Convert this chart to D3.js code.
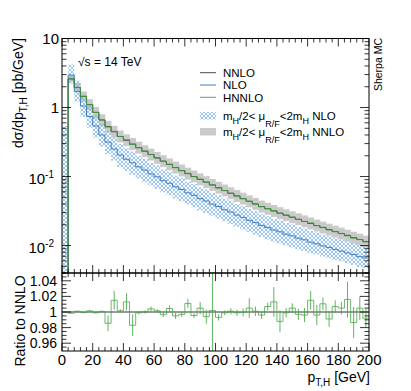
<!DOCTYPE html>
<html>
<head>
<meta charset="utf-8">
<script src="https://cdn.jsdelivr.net/npm/d3@7"></script>
<style>
body { margin: 0; background: #fff; }
text { font-family: "Liberation Sans", Arial, sans-serif; fill: #000; }
</style>
</head>
<body>
<div id="chart"></div>
<script>
// bin edges in GeV (4 GeV bins, 0..200)
var edges = d3.range(0, 204, 4);

// NNLO central values [pb/GeV], one per bin
var nnlo = [0.002, 2.6, 1.95, 1.45, 1.10, 0.85, 0.66, 0.53, 0.445, 0.38,
            0.335, 0.296, 0.262, 0.233, 0.208, 0.186, 0.167, 0.150, 0.135, 0.122,
            0.110, 0.100, 0.091, 0.083, 0.0755, 0.0688, 0.0627, 0.0572, 0.0523, 0.0478,
            0.0437, 0.0400, 0.0367, 0.0341, 0.0317, 0.0295, 0.0275, 0.0257, 0.0240, 0.0224,
            0.0209, 0.0195, 0.0182, 0.0170, 0.0159, 0.0149, 0.0139, 0.0130, 0.0122, 0.0114];

// NLO central values
var nlo = [0.002, 2.95, 1.7, 1.05, 0.74, 0.54, 0.40, 0.315, 0.25, 0.205,
           0.178, 0.158, 0.138, 0.124, 0.109, 0.099, 0.087, 0.080, 0.071, 0.065,
           0.058, 0.0535, 0.0478, 0.0442, 0.0398, 0.0368, 0.0330, 0.0306, 0.0276, 0.0256,
           0.0232, 0.0215, 0.0196, 0.0183, 0.0168, 0.0158, 0.0146, 0.0138, 0.0128, 0.0121,
           0.0112, 0.0106, 0.0099, 0.0094, 0.0088, 0.0083, 0.0078, 0.0074, 0.0069, 0.0066];

// scale variation envelopes, relative to central value
var nloUp = [270, 1.42, 1.44, 1.45, 1.45, 1.45, 1.46, 1.45, 1.46, 1.45,
             1.45, 1.46, 1.45, 1.46, 1.45, 1.46, 1.45, 1.46, 1.45, 1.46,
             1.45, 1.46, 1.45, 1.46, 1.45, 1.46, 1.45, 1.46, 1.45, 1.46,
             1.45, 1.46, 1.45, 1.46, 1.45, 1.46, 1.45, 1.46, 1.45, 1.46,
             1.45, 1.46, 1.45, 1.46, 1.45, 1.46, 1.45, 1.46, 1.45, 1.46];
var nloDn = [0.5, 0.75, 0.72, 0.70, 0.69, 0.68, 0.68, 0.67, 0.68, 0.67,
             0.68, 0.67, 0.68, 0.67, 0.68, 0.67, 0.68, 0.67, 0.68, 0.67,
             0.68, 0.67, 0.68, 0.67, 0.68, 0.67, 0.68, 0.67, 0.68, 0.67,
             0.68, 0.67, 0.68, 0.67, 0.68, 0.68, 0.69, 0.68, 0.69, 0.69,
             0.69, 0.70, 0.70, 0.70, 0.70, 0.71, 0.71, 0.71, 0.71, 0.71];
var nnloUp = [1.2, 1.12, 1.16, 1.18, 1.2, 1.2, 1.21, 1.21, 1.22, 1.22,
              1.22, 1.22, 1.22, 1.22, 1.22, 1.22, 1.22, 1.22, 1.22, 1.22,
              1.22, 1.22, 1.22, 1.22, 1.22, 1.22, 1.22, 1.22, 1.22, 1.22,
              1.22, 1.22, 1.22, 1.22, 1.22, 1.22, 1.22, 1.22, 1.22, 1.22,
              1.22, 1.22, 1.22, 1.22, 1.22, 1.22, 1.22, 1.22, 1.22, 1.22];
var nnloDn = [0.8, 0.9, 0.86, 0.84, 0.83, 0.82, 0.82, 0.82, 0.82, 0.82,
              0.82, 0.82, 0.82, 0.82, 0.82, 0.82, 0.82, 0.82, 0.82, 0.82,
              0.82, 0.82, 0.82, 0.82, 0.82, 0.82, 0.82, 0.82, 0.82, 0.82,
              0.82, 0.82, 0.82, 0.82, 0.82, 0.82, 0.82, 0.82, 0.82, 0.82,
              0.82, 0.82, 0.82, 0.82, 0.82, 0.82, 0.82, 0.82, 0.82, 0.82];

// HNNLO / NNLO ratio and its stat. error
var ratio = [1.000, 0.9985, 1.001, 0.9992, 1.0015, 0.999, 1.0008, 0.9855, 1.015, 1.0015,
             1.013, 0.983, 0.999, 1.000, 1.004, 1.0015, 0.9965, 1.0045, 0.995, 0.997,
             1.011, 0.9955, 1.005, 0.994, 1.002, 0.993, 0.999, 1.001, 0.999, 0.9995,
             1.005, 1.001, 0.996, 1.007, 1.013, 0.988, 0.999, 1.005, 0.997, 0.996,
             1.015, 0.996, 1.0105, 0.991, 1.007, 1.005, 1.016, 0.9865, 1.005, 0.992];
var ratioErr = [0.001, 0.0005, 0.0007, 0.0008, 0.001, 0.001, 0.0012, 0.010, 0.012, 0.002,
                0.011, 0.014, 0.002, 0.002, 0.003, 0.002, 0.003, 0.004, 0.004, 0.003,
                0.006, 0.003, 0.008, 0.009, 0.060, 0.004, 0.003, 0.004, 0.004, 0.005,
                0.0125, 0.006, 0.005, 0.005, 0.019, 0.014, 0.006, 0.006, 0.007, 0.009,
                0.012, 0.013, 0.008, 0.010, 0.008, 0.008, 0.023, 0.020, 0.015, 0.012];

var xTicks = [0, 20, 40, 60, 80, 100, 120, 140, 160, 180, 200];
var yMajor = [0.01, 0.1, 1, 10];
var rTicks = [0.96, 0.98, 1, 1.02, 1.04];
var rLabels = ["0.96", "0.98", "1", "1.02", "1.04"];

// layout
var W = 411, H = 391;
var xL = 62, xR = 369, yTop = 38.5, yMid = 273, yBot = 351;

var svg = d3.select("#chart").append("svg")
    .attr("width", W)
    .attr("height", H);

var x = d3.scaleLinear().domain([0, 200]).range([xL, xR]);
var y = d3.scaleLog().domain([0.004, 10]).range([yMid, yTop]);
var yr = d3.scaleLinear().domain([0.95, 1.05]).range([yBot, yMid]);

var defs = svg.append("defs");
defs.append("clipPath").attr("id", "clipMain")
  .append("rect").attr("x", xL).attr("y", yTop).attr("width", xR - xL).attr("height", yMid - yTop);
defs.append("clipPath").attr("id", "clipRatio")
  .append("rect").attr("x", xL).attr("y", yMid).attr("width", xR - xL).attr("height", yBot - yMid);
var pat = defs.append("pattern").attr("id", "hatch")
    .attr("patternUnits", "userSpaceOnUse")
    .attr("width", 4).attr("height", 4);
pat.append("path")
    .attr("d", "M0,0L4,4M4,0L0,4")
    .attr("stroke", "#7fb6e8")
    .attr("stroke-width", 0.8);

var bins = nnlo.map(function(v, i) {
  return {lo: edges[i], hi: edges[i + 1], nnlo: v, nlo: nlo[i],
          hnnlo: v * ratio[i], r: ratio[i], re: ratioErr[i],
          nloHi: nlo[i] * nloUp[i], nloLo: nlo[i] * nloDn[i],
          nnloHi: v * nnloUp[i], nnloLo: v * nnloDn[i]};
});

// step line from bin values
function stepLine(key, sc) {
  var pts = [];
  bins.forEach(function(b) {
    pts.push([b.lo, b[key]]);
    pts.push([b.hi, b[key]]);
  });
  return d3.line()
    .x(function(p) { return x(p[0]); })
    .y(function(p) { return sc(p[1]); })(pts);
}

// ****************** main panel ***************************
var main = svg.append("g").attr("clip-path", "url(#clipMain)");

main.selectAll("rect.nnloBand").data(bins).enter().append("rect")
    .attr("class", "nnloBand")
    .attr("x", function(d) { return x(d.lo); })
    .attr("width", function(d) { return x(d.hi) - x(d.lo) + 0.3; })
    .attr("y", function(d) { return y(d.nnloHi); })
    .attr("height", function(d) { return y(d.nnloLo) - y(d.nnloHi); })
    .attr("fill", "#cacaca");

main.selectAll("rect.nloBand").data(bins).enter().append("rect")
    .attr("class", "nloBand")
    .attr("x", function(d) { return x(d.lo); })
    .attr("width", function(d) { return x(d.hi) - x(d.lo); })
    .attr("y", function(d) { return y(d.nloHi); })
    .attr("height", function(d) { return y(d.nloLo) - y(d.nloHi); })
    .attr("fill", "url(#hatch)");

main.append("path").attr("d", stepLine("nlo", y))
    .attr("fill", "none").attr("stroke", "#3f7fbf").attr("stroke-width", 1);
main.append("path").attr("d", stepLine("nnlo", y))
    .attr("fill", "none").attr("stroke", "#4a4a4a").attr("stroke-width", 1);
main.append("path").attr("d", stepLine("hnnlo", y))
    .attr("fill", "none").attr("stroke", "#3f9a3f").attr("stroke-width", 1)
    .attr("stroke-opacity", 0.9);

// ****************** ratio panel ***************************
var rat = svg.append("g").attr("clip-path", "url(#clipRatio)");

rat.append("line")
    .attr("x1", xL).attr("x2", xR)
    .attr("y1", yr(1)).attr("y2", yr(1))
    .attr("stroke", "#333").attr("stroke-width", 1.2);

rat.append("path").attr("d", stepLine("r", yr))
    .attr("fill", "none").attr("stroke", "#3fa33f").attr("stroke-width", 1)
    .attr("stroke-opacity", 0.75);

rat.selectAll("line.err").data(bins).enter().append("line")
    .attr("class", "err")
    .attr("x1", function(d) { return x((d.lo + d.hi) / 2); })
    .attr("x2", function(d) { return x((d.lo + d.hi) / 2); })
    .attr("y1", function(d) { return yr(d.r - d.re); })
    .attr("y2", function(d) { return yr(d.r + d.re); })
    .attr("stroke", "#45a845").attr("stroke-width", 1)
    .attr("stroke-opacity", 0.85);

// ****************** frames and ticks ***************************
function frame(y0, y1) {
  svg.append("rect")
    .attr("x", xL).attr("y", y0)
    .attr("width", xR - xL).attr("height", y1 - y0)
    .attr("fill", "none").attr("stroke", "#000").attr("stroke-width", 1);
}
frame(yTop, yMid);
frame(yMid, yBot);

function xTickRow(yy, dir) {
  var minor = d3.range(0, 201, 4);
  svg.append("g").selectAll("line").data(minor).enter().append("line")
    .attr("x1", function(d) { return x(d); })
    .attr("x2", function(d) { return x(d); })
    .attr("y1", yy)
    .attr("y2", function(d) { return yy + dir * (d % 20 === 0 ? 8 : 4); })
    .attr("stroke", "#000").attr("stroke-width", 0.8);
}
xTickRow(yTop, 1);
xTickRow(yMid, -1);
xTickRow(yMid, 1);
xTickRow(yBot, -1);

function yTickRow(sc, values, isMajor, yLo, yHi) {
  [[xL, 1], [xR, -1]].forEach(function(side) {
    svg.append("g").selectAll("line").data(values.filter(function(v) {
        return sc(v) >= yLo - 0.1 && sc(v) <= yHi + 0.1;
      })).enter().append("line")
      .attr("x1", side[0])
      .attr("x2", function(d) { return side[0] + side[1] * (isMajor(d) ? 9 : 4.5); })
      .attr("y1", function(d) { return sc(d); })
      .attr("y2", function(d) { return sc(d); })
      .attr("stroke", "#000").attr("stroke-width", 0.8);
  });
}
yTickRow(y, y.ticks(), function(d) { return yMajor.some(function(m) { return Math.abs(m - d) < m * 1e-6; }); }, yTop, yMid);
yTickRow(yr, d3.range(0.955, 1.05, 0.005), function(d) { return rTicks.some(function(m) { return Math.abs(m - d) < 1e-6; }); }, yMid, yBot);

// x labels
svg.append("g").selectAll("text").data(xTicks).enter().append("text")
    .attr("x", function(d) { return x(d); })
    .attr("y", 365)
    .attr("text-anchor", "middle")
    .style("font-size", "15px")
    .text(function(d) { return d; });

// main y labels
var yl = svg.append("g").style("font-size", "15px");
yl.append("text").attr("x", 59).attr("y", y(10) + 5).attr("text-anchor", "end").text("10");
yl.append("text").attr("x", 59).attr("y", y(1) + 5).attr("text-anchor", "end").text("1");
[[0.1, "-1"], [0.01, "-2"]].forEach(function(e) {
  var t = yl.append("text").attr("x", 54).attr("y", y(e[0]) + 7).attr("text-anchor", "end");
  t.append("tspan").text("10");
  t.append("tspan").attr("dy", -6).style("font-size", "10px").text(e[1]);
});

// ratio y labels
svg.append("g").selectAll("text").data(rTicks).enter().append("text")
    .attr("x", 57)
    .attr("y", function(d) { return yr(d) + 5; })
    .attr("text-anchor", "end")
    .style("font-size", "14px")
    .text(function(d, i) { return rLabels[i]; });

// axis titles
var yt = svg.append("text")
    .attr("transform", "translate(23," + 38 + ") rotate(-90)")
    .attr("text-anchor", "end")
    .style("font-size", "14px");
yt.append("tspan").text("d\u03C3/dp");
yt.append("tspan").attr("dy", 4).style("font-size", "10px").text("T,H");
yt.append("tspan").attr("dy", -4).text(" [pb/GeV]");

svg.append("text")
    .attr("transform", "translate(25,321) rotate(-90)")
    .attr("text-anchor", "middle")
    .style("font-size", "14px")
    .text("Ratio to NNLO");

var xt = svg.append("text")
    .attr("x", 370).attr("y", 382)
    .attr("text-anchor", "end")
    .style("font-size", "14px");
xt.append("tspan").text("p");
xt.append("tspan").attr("dy", 4).style("font-size", "10px").text("T,H");
xt.append("tspan").attr("dy", -4).text(" [GeV]");

svg.append("text")
    .attr("transform", "translate(382,38) rotate(-90)")
    .attr("text-anchor", "end")
    .style("font-size", "10.5px")
    .text("Sherpa MC");

svg.append("text")
    .attr("x", 78).attr("y", 66)
    .style("font-size", "12px")
    .text("\u221As = 14 TeV");

// ****************** legend ***************************
var leg = svg.append("g").style("font-size", "11.5px");
[["NNLO", "#4a4a4a", 72.7], ["NLO", "#3f7fbf", 85], ["HNNLO", "#4caf50", 97.3]].forEach(function(e) {
  leg.append("line").attr("x1", 200).attr("x2", 216).attr("y1", e[2]).attr("y2", e[2])
    .attr("stroke", e[1]).attr("stroke-width", 1);
  leg.append("text").attr("x", 223).attr("y", e[2] + 4.3).text(e[0]);
});
[["url(#hatch)", "NLO", 112], ["#cacaca", "NNLO", 128]].forEach(function(e) {
  leg.append("rect").attr("x", 200).attr("y", e[2]).attr("width", 16).attr("height", 7.5)
    .attr("fill", e[0]);
  var t = leg.append("text").attr("x", 223).attr("y", e[2] + 7.5);
  t.append("tspan").text("m");
  t.append("tspan").attr("dy", 4).style("font-size", "9px").text("H");
  t.append("tspan").attr("dy", -4).text("/2< \u03BC");
  t.append("tspan").attr("dy", 7).style("font-size", "9px").text("R/F");
  t.append("tspan").attr("dy", -7).text("<2m");
  t.append("tspan").attr("dy", 4).style("font-size", "9px").text("H");
  t.append("tspan").attr("dy", -4).text(" " + e[1]);
});
</script>
</body>
</html>
